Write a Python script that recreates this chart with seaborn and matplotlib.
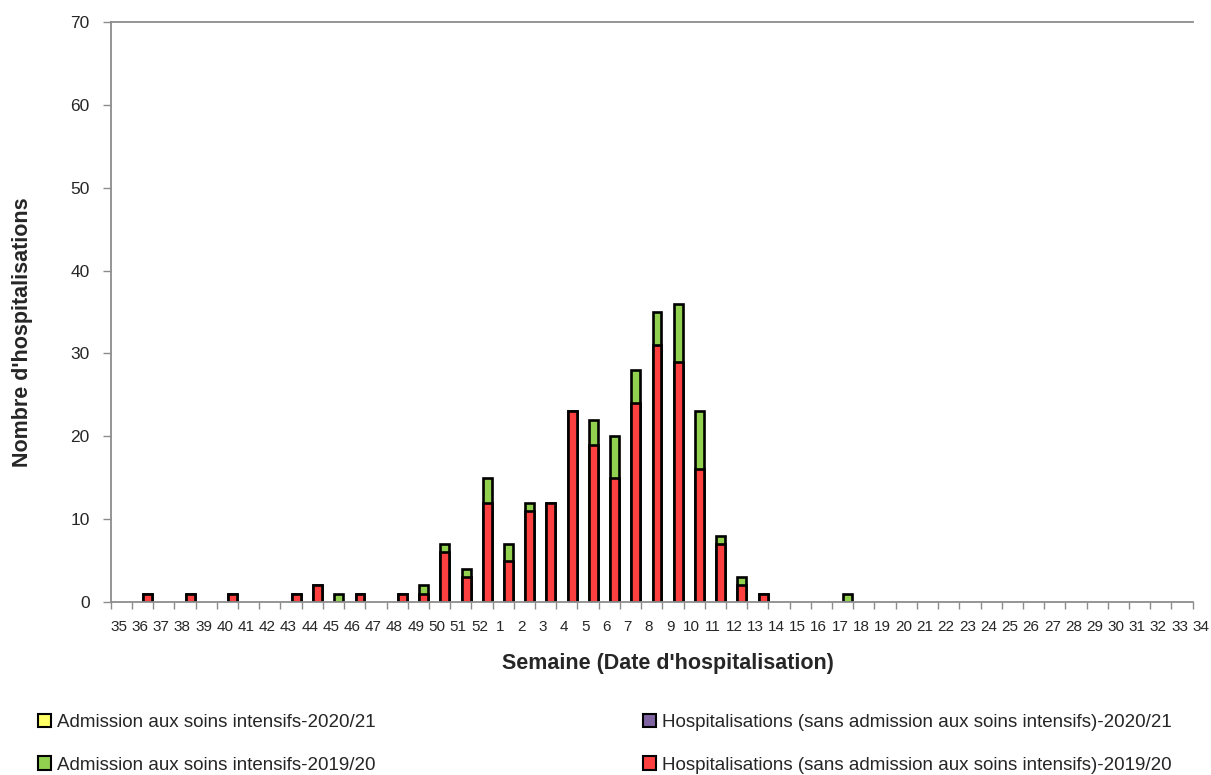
import matplotlib
matplotlib.use('Agg')
import matplotlib.pyplot as plt
import matplotlib.patches as mpatches
import matplotlib.transforms as mtrans
import numpy as np
import pandas as pd
import seaborn as sns

sns.set_style('white')
plt.rcParams['font.family'] = ['Liberation Sans Narrow', 'Liberation Sans', 'DejaVu Sans']

# semaines de la saison (35 -> 52, puis 1 -> 34)
semaines = [str(w) for w in list(range(35, 53)) + list(range(1, 35))]

# saison 2019/20
hospit_1920 = [0, 1, 0, 1, 0, 1, 0, 0, 1, 2, 0, 1, 0, 1, 1, 6, 3, 12,
               5, 11, 12, 23, 19, 15, 24, 31, 29, 16, 7, 2, 1, 0, 0, 0,
               0, 0, 0, 0, 0, 0, 0, 0, 0, 0, 0, 0, 0, 0, 0, 0, 0, 0]
si_1920 = [0, 0, 0, 0, 0, 0, 0, 0, 0, 0, 1, 0, 0, 0, 1, 1, 1, 3,
           2, 1, 0, 0, 3, 5, 4, 4, 7, 7, 1, 1, 0, 0, 0, 0,
           1, 0, 0, 0, 0, 0, 0, 0, 0, 0, 0, 0, 0, 0, 0, 0, 0, 0]

# saison 2020/21 (aucune donnée)
hospit_2021 = [0] * 52
si_2021 = [0] * 52

couleurs = {
    'si_2021': '#FFFF66',
    'hosp_2021': '#8064A2',
    'si_1920': '#92D050',
    'hosp_1920': '#FF4040',
}
labels = {
    'si_2021': 'Admission aux soins intensifs-2020/21',
    'hosp_2021': 'Hospitalisations (sans admission aux soins intensifs)-2020/21',
    'si_1920': 'Admission aux soins intensifs-2019/20',
    'hosp_1920': 'Hospitalisations (sans admission aux soins intensifs)-2019/20',
}

df = pd.DataFrame({
    'semaine': semaines,
    'hosp_1920': hospit_1920,
    'si_1920': si_1920,
    'hosp_2021': hospit_2021,
    'si_2021': si_2021,
})
df['total_1920'] = df['hosp_1920'] + df['si_1920']
df['total_2021'] = df['hosp_2021'] + df['si_2021']

fig = plt.figure(figsize=(12.11, 7.75), dpi=100)
ax = fig.add_axes([110.7 / 1211, 1 - 602 / 775, 1082 / 1211, 580 / 775])

# barres empilées : total (vert) puis hospitalisations (rouge) par-dessus
sns.barplot(data=df, x='semaine', y='total_1920', order=semaines,
            color=couleurs['si_1920'], width=0.42, saturation=1,
            edgecolor='black', linewidth=1.9, ax=ax)
sns.barplot(data=df, x='semaine', y='hosp_1920', order=semaines,
            color=couleurs['hosp_1920'], width=0.42, saturation=1,
            edgecolor='black', linewidth=1.9, ax=ax)
# cacher les barres de hauteur nulle
for p in ax.patches:
    if p.get_height() == 0:
        p.set_visible(False)

ax.set_ylim(0, 70)
ax.set_xlim(-0.75, 50.25)
ax.set_yticks(range(0, 71, 10))
ax.tick_params(axis='y', which='major', labelsize=12.5, length=6, width=1,
               color='#8c8c8c', direction='out', pad=9, left=True)

# graduations de l'axe des x (étiquettes légèrement décalées à droite)
pos = np.arange(len(semaines))
ax.set_xticks(pos - 0.75)
ax.set_xticklabels(semaines)
ax.tick_params(axis='x', which='major', length=5, width=1, color='#8c8c8c',
               direction='out', bottom=True, labelsize=11, pad=8)
decalage = mtrans.ScaledTranslation(8 / 100, 0, fig.dpi_scale_trans)
for lab in ax.get_xticklabels():
    lab.set_transform(lab.get_transform() + decalage)

for s in ['left', 'bottom', 'top']:
    ax.spines[s].set_color('#8c8c8c')
    ax.spines[s].set_linewidth(1.3)
ax.spines['right'].set_visible(False)

ax.set_xlabel("Semaine (Date d'hospitalisation)", fontsize=15.5,
              fontweight='bold')
ax.set_ylabel("Nombre d'hospitalisations", fontsize=15.5,
              fontweight='bold')
ax.xaxis.set_label_coords((668 - 110.7) / 1082, (602 - 664) / 580)
ax.xaxis.label.set_va('center')
ax.yaxis.set_label_coords((23 - 110.7) / 1082, (602 - 332) / 580)
ax.yaxis.label.set_va('center')

def carre(cle):
    return mpatches.Patch(facecolor=couleurs[cle], edgecolor='black',
                          linewidth=1.5, label=labels[cle])

opts = dict(loc='upper left', frameon=False, fontsize=13.5, handlelength=0.7,
            handleheight=0.7, handletextpad=0.3, labelspacing=1.35,
            borderpad=0, borderaxespad=0)
fig.legend(handles=[carre('si_2021'), carre('si_1920')],
           bbox_to_anchor=(38 / 1211, 1 - 714 / 775), **opts)
fig.legend(handles=[carre('hosp_2021'), carre('hosp_1920')],
           bbox_to_anchor=(643 / 1211, 1 - 714 / 775), **opts)

plt.savefig('out.png', dpi=100)
